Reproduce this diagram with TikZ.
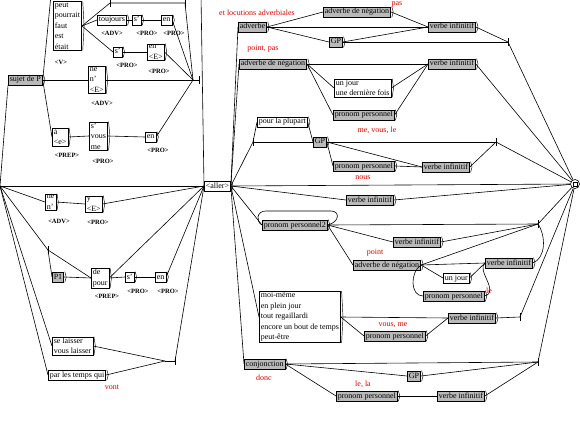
\documentclass[tikz,border=0pt]{standalone}
\usepackage{fontspec}
\setmainfont{Liberation Serif}
\begin{document}
\begin{tikzpicture}[x=1pt,y=-1pt,
  every node/.style={inner sep=0pt},
  bx/.style={draw, line width=0.6pt, inner xsep=1.5pt, inner ysep=1pt, font=\fontsize{8}{10.5}\selectfont, anchor=west},
  ubox/.style={bx, fill=white, text height=6pt, text depth=2pt},
  gbox/.style={bx, fill=gray!55, text height=6pt, text depth=2pt},
  mbox/.style={bx, fill=white, align=left},
  tag/.style={font=\bfseries\fontsize{6.5}{7}\selectfont},
  rtag/.style={font=\fontsize{8}{9}\selectfont, text=red!85!black},
  ln/.style={line width=0.6pt}
]
\fill[white] (0,0) rectangle (580,422);
\useasboundingbox (0,0) rectangle (580,422);
\clip (0,0) rectangle (580,422);

% ---------- coordinates ----------
\coordinate (S) at (0,186);
\coordinate (mA) at (193,80);
\coordinate (tA) at (199,80);
\coordinate (vtop) at (201,-5);
\coordinate (ttop) at (51,-5);
\coordinate (tp1) at (110,3);
\coordinate (tp2) at (185,3);
\coordinate (tB) at (48,250);
\coordinate (mB) at (165,361);
\coordinate (tBB) at (175,361);
\coordinate (t1) at (508,42);
\coordinate (t2) at (253,142);
\coordinate (t3) at (496,142);
\coordinate (t4) at (538,224);
\coordinate (t5) at (520,317);
\coordinate (t6) at (538,362);

% ---------- left part ----------
\node[gbox] (sujP) at (8,80) {sujet de P};
\node[mbox] (vbox) at (53,26) {peut\\pourrait\\faut\\est\\était};
\node[tag] (l1) at (61,62) {<V>};
\node[ubox] (tjr) at (97,20) {toujours};
\node[tag] (l2) at (112,33) {<ADV>};
\node[ubox] (se1) at (132,20) {s'};
\node[tag] (l3) at (147,33) {<PRO>};
\node[ubox] (en1) at (161,20) {en};
\node[tag] (l4) at (174,33) {<PRO>};
\node[ubox] (se2) at (113,52) {s'};
\node[tag] (l5) at (127,65) {<PRO>};
\node[mbox] (enE) at (147,52) {en\\<E>};
\node[tag] (l6) at (159,71) {<PRO>};
\node[mbox] (neE) at (88,80) {ne\\n'\\<E>};
\node[tag] (l7) at (102,103) {<ADV>};
\node[mbox] (aE) at (52,137) {à\\<e>};
\node[tag] (l8) at (67,155) {<PREP>};
\node[mbox] (svm) at (89,136) {s'\\vous\\me};
\node[tag] (l9) at (103,161) {<PRO>};
\node[ubox] (en2) at (145,137) {en};
\node[tag] (l10) at (158,150) {<PRO>};
\node[ubox] (aller) at (204,186) {<aller>};
\node[mbox] (neN) at (45,202) {ne\\n'};
\node[tag] (l11) at (59,221) {<ADV>};
\node[mbox] (yE) at (85,204) {y\\<E>};
\node[tag] (l12) at (98,222) {<PRO>};
\node[gbox] (P1) at (52,277) {P1};
\node[mbox] (depour) at (91,278) {de\\pour};
\node[tag] (l13) at (107,296) {<PREP>};
\node[ubox] (se3) at (125,277) {s'};
\node[tag] (l14) at (138,291) {<PRO>};
\node[ubox] (en3) at (155,277) {en};
\node[tag] (l15) at (168,291) {<PRO>};
\node[mbox] (sl) at (52,346) {se laisser\\vous laisser};
\node[ubox] (ptq) at (48,375) {par les temps qui};
\node[rtag] (r0) at (112,387) {vont};

% ---------- right part ----------
\node[rtag] (r1) at (257,13) {et locutions adverbiales};
\node[gbox] (adv) at (238,27) {adverbe};
\node[gbox] (adn1) at (323,12) {adverbe de négation};
\node[rtag] (r2) at (397,4) {pas};
\node[gbox] (gp1) at (329,42) {GP};
\node[gbox] (vi1) at (428,27) {verbe infinitif};
\node[rtag] (r3) at (263,49) {point, pas};
\node[gbox] (adn2) at (239,64) {adverbe de négation};
\node[mbox] (ujdf) at (334,88) {un jour\\une dernière fois};
\node[gbox] (pp1) at (333,115) {pronom personnel};
\node[gbox] (vi2) at (428,64) {verbe infinitif};
\node[rtag] (r4) at (377,130) {me, vous, le};
\node[ubox] (plp) at (257,122) {pour la plupart};
\node[gbox] (gp2) at (313,142) {GP};
\node[gbox] (pp2) at (333,166) {pronom personnel};
\node[rtag] (r5) at (363,178) {nous};
\node[gbox] (vi3) at (422,167) {verbe infinitif};
\node[draw, circle, minimum size=9pt, ln, fill=white] (fin) at (575,184) {};
\node[gbox] (vi4) at (346,200) {verbe infinitif};
\node[gbox] (pp12) at (262,225) {pronom personnel2};
\node[gbox] (vi5) at (393,242) {verbe infinitif};
\node[rtag] (r6) at (375,253) {point};
\node[gbox] (adn3) at (353,265) {adverbe de négation};
\node[gbox] (vi6) at (485,263) {verbe infinitif};
\node[ubox] (uj) at (443,278) {un jour};
\node[gbox] (pp3) at (423,296) {pronom personnel};
\node[rtag] (r7) at (489,291) {le};
\node[mbox] (mm) at (259,317) {moi-même\\en plein jour\\tout regaillardi\\encore un bout de temps\\peut-être};
\node[gbox] (vi7) at (448,318) {verbe infinitif};
\node[rtag] (r8) at (393,325) {vous, me};
\node[gbox] (pp4) at (364,336) {pronom personnel};
\node[gbox] (conj) at (244,364) {conjonction};
\node[rtag] (r9) at (264,378) {donc};
\node[gbox] (gp3) at (407,376) {GP};
\node[rtag] (r10) at (363,384) {le, la};
\node[gbox] (pp5) at (336,396) {pronom personnel};
\node[gbox] (vi8) at (437,396) {verbe infinitif};

% output chevrons
\foreach \n in {sujP,vbox,tjr,se1,en1,se2,enE,neE,aE,svm,en2,aller,neN,yE,P1,depour,se3,en3,sl,ptq,adv,adn1,gp1,vi1,adn2,ujdf,pp1,vi2,plp,gp2,pp2,vi3,vi4,pp12,vi5,adn3,vi6,uj,pp3,mm,vi7,pp4,conj,gp3,pp5,vi8}
  \draw[line width=0.45pt] ([xshift=0.8pt]\n.north east) -- ([xshift=2.2pt]\n.east) -- ([xshift=0.8pt]\n.south east);

% ticks
\foreach \t in {tA,tp1,tp2,tB,tBB,t1,t2,t3,t4,t5,t6}
  \draw[ln] ([yshift=-4pt]\t) -- ([yshift=4pt]\t);
\draw[line width=0.4pt] ([shift={(-2pt,-2pt)}]fin.center) rectangle ([shift={(2pt,2pt)}]fin.center);

% ---------- connectors, left ----------
\begin{scope}[ln]
\draw (S) -- (sujP.south west);
\draw (S) -- (aller.west);
\draw (S) -- (neN.west);
\draw (S) -- (tB);
\draw (S) -- (sl.west);
\draw (S) -- (ptq.west);
\draw (sujP.east) -- (ttop);
\draw (sujP.east) -- (neE.west);
\draw (sujP.east) -- (aE.west);
\draw (vbox.east) -- (tp1) -- (tp2) -- (mA);
\draw (vbox.east) -- (tjr.west);
\draw (tjr.east) -- (se1.west);
\draw (se1.east) -- (en1.west);
\draw (en1.east) -- (mA);
\draw (vbox.east) -- (se2.west);
\draw (se2.east) -- (enE.west);
\draw (enE.east) -- (mA);
\draw (neE.east) -- (mA);
\draw (aE.east) -- (svm.west);
\draw (svm.east) -- (en2.west);
\draw (en2.east) -- (mA);
\draw (mA) -- (tA);
\draw (vtop) -- (aller.west);
\draw (neN.east) -- (yE.west);
\draw (yE.east) -- (aller.west);
\draw (tB) -- (P1.west);
\draw (tB) -- (depour.west);
\draw (P1.east) -- (depour.west);
\draw (depour.east) -- (se3.west);
\draw (se3.east) -- (en3.west);
\draw (en3.east) -- (aller.west);
\draw (depour.east) -- (aller.west);
\draw (sl.east) -- (mB);
\draw (ptq.east) -- (mB);
\draw (mB) -- (tBB);
\draw (tBB) -- (aller.west);

% ---------- connectors, right ----------
\draw (aller.east) -- (adv.west);
\draw (aller.east) -- (adn2.west);
\draw (aller.east) -- (t2);
\draw (aller.east) -- (fin);
\draw (aller.east) -- (vi4.west);
\draw (aller.east) -- (pp12.west);
\draw (aller.east) -- (mm.west);
\draw (aller.east) -- (conj.west);

\draw (adv.east) -- (adn1.west);
\draw (adv.east) -- (vi1.west);
\draw (adv.east) -- (gp1.west);
\draw (adn1.east) -- (vi1.west);
\draw (gp1.east) -- (vi1.west);
\draw (gp1.east) -- (t1);
\draw (vi1.east) -- (t1);
\draw (t1) -- (fin);

\draw (adn2.east) -- (vi2.west);
\draw (adn2.east) -- (ujdf.west);
\draw (adn2.east) -- (pp1.west);
\draw (ujdf.east) -- (vi2.west);
\draw (pp1.east) -- (vi2.west);
\draw (vi2.east) -- (fin);

\draw (t2) -- (plp.west);
\draw (t2) -- (gp2.west);
\draw (plp.east) -- (gp2.west);
\draw (gp2.east) -- (t3);
\draw (gp2.east) -- (pp2.west);
\draw (gp2.east) -- (vi3.west);
\draw (pp2.east) -- (vi3.west);
\draw (vi3.east) -- (t3);
\draw (t3) -- (fin);

\draw (vi4.east) -- (fin);

\draw (pp12.east) .. controls (340,222) and (340,211) .. (331,211) -- (266,211) .. controls (256,211) and (256,222) .. (pp12.west);
\draw (pp12.east) -- (t4);
\draw (pp12.east) -- (vi5.west);
\draw (pp12.east) -- (adn3.west);
\draw (vi5.east) -- (t4);
\draw (adn3.east) -- (t4);
\draw (adn3.east) -- (vi6.west);
\draw (adn3.east) -- (uj.west);
\draw (adn3.east) .. controls (410,272) and (410,296) .. (pp3.west);
\draw (uj.east) -- (vi6.west);
\draw (pp3.east) .. controls (500,292) and (476,270) .. (vi6.west);
\draw (vi6.east) .. controls (546,258) and (546,236) .. (t4);
\draw (t4) -- (fin);

\draw (mm.east) -- (vi7.west);
\draw (mm.east) -- (pp4.west);
\draw (pp4.east) -- (vi7.west);
\draw (vi7.east) -- (t5);
\draw (t5) -- (fin);

\draw (conj.east) -- (t6);
\draw (conj.east) -- (gp3.west);
\draw (conj.east) -- (pp5.west);
\draw (gp3.east) -- (t6);
\draw (pp5.east) -- (vi8.west);
\draw (vi8.east) -- (t6);
\draw (t6) -- (fin);
\end{scope}
\end{tikzpicture}
\end{document}
